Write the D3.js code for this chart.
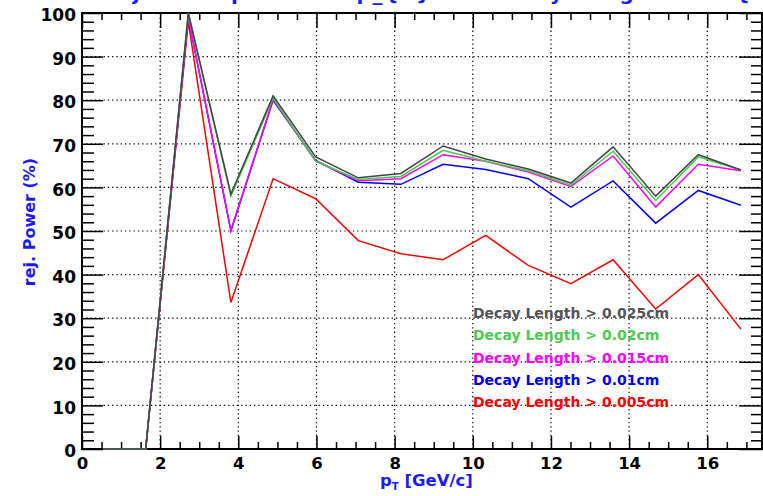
<!DOCTYPE html>
<html>
<head>
<meta charset="utf-8">
<script src="https://cdn.jsdelivr.net/npm/d3@7"></script>
<style>
  body { margin: 0; background: #fff; }
  svg { display: block; }
  text { font-family: "DejaVu Sans", "Liberation Sans", sans-serif; font-weight: bold; }
</style>
</head>
<body>
<div id="chart"></div>
<script>
// pT bin centres (GeV/c)
const ptBins = [0.54, 1.63, 2.72, 3.81, 4.89, 5.98, 7.07, 8.16, 9.24, 10.33, 11.42, 12.51, 13.59, 14.68, 15.77, 16.86];

// rejection power (%) for each decay length cut
const dl0025 = [0, 0, 100, 58.5, 81, 67, 62.2, 63.2, 69.5, 66.5, 64.2, 61, 69.3, 58, 67.5, 64];
const dl0020 = [0, 0, 100, 58, 80.5, 66, 61.8, 62.5, 68.5, 66, 63.8, 60.5, 68.3, 57, 67, 64];
const dl0015 = [0, 0, 99, 50.2, 80.2, 66, 61.5, 62, 67.5, 66, 63.5, 60.2, 67.2, 55.5, 65.3, 63.8];
const dl0010 = [0, 0, 99, 50, 80, 66.2, 61.2, 60.7, 65.3, 64.1, 62, 55.5, 61.5, 51.8, 59.3, 55.9];
const dl0005 = [0, 0, 98, 33.6, 62, 57.4, 47.8, 44.8, 43.4, 49, 42.1, 37.9, 43.4, 32.1, 40, 27.5];

const legendLabels = ['Decay Length > 0.025cm', 'Decay Length > 0.02cm', 'Decay Length > 0.015cm', 'Decay Length > 0.01cm', 'Decay Length > 0.005cm'];
const xMajorTicks = [0, 2, 4, 6, 8, 10, 12, 14, 16];
const yMajorTicks = [0, 10, 20, 30, 40, 50, 60, 70, 80, 90, 100];

const width = 763;
const height = 496;
const margin = { left: 82, right: 1, top: 13, bottom: 47 };

function buildChart() {
    const svg = d3.select('#chart')
        .append('svg')
        .attr('width', width)
        .attr('height', height);

    const x = d3.scaleLinear()
        .domain([0, 17.4])
        .range([margin.left, width - margin.right]);
    const y = d3.scaleLinear()
        .domain([0, 100])
        .range([height - margin.bottom, margin.top]);

    // title, mostly cut off at the top edge like in the original
    svg.append('text')
        .attr('x', 100)
        .attr('y', 0)
        .attr('fill', '#1a1aff')
        .style('font-size', '20px')
        .attr('textLength', 650)
        .text('Rejection power vs p_{T} for Decay Length cuts {');

    // dotted grid
    const grid = svg.append('g')
        .attr('stroke', '#000')
        .attr('stroke-width', 1.2)
        .attr('stroke-dasharray', '1.3,3');
    grid.selectAll('.gx')
        .data(xMajorTicks.filter(d => d > 0))
        .enter().append('line')
        .attr('x1', d => x(d)).attr('x2', d => x(d))
        .attr('y1', y(0)).attr('y2', y(100));
    grid.selectAll('.gy')
        .data(yMajorTicks.filter(d => d > 0 && d < 100))
        .enter().append('line')
        .attr('x1', x(0)).attr('x2', x(17.4))
        .attr('y1', d => y(d)).attr('y2', d => y(d));

    const xMinor = d3.range(0, 17.5, 0.5).filter(d => d % 2 !== 0);
    const yMinor = d3.range(0, 101, 2).filter(d => d % 10 !== 0);

    function styleAxis(g) {
        g.select('.domain').remove();
        g.selectAll('line').attr('stroke', '#000').attr('stroke-width', 1.5);
    }

    // bottom axis
    svg.append('g')
        .attr('transform', `translate(0,${y(0)})`)
        .call(d3.axisBottom(x).tickValues(xMajorTicks).tickSize(-13).tickPadding(8).tickFormat(d3.format('d')))
        .call(styleAxis)
        .call(g => g.selectAll('text').attr('fill', '#000').style('font-size', '16.5px'));
    svg.append('g')
        .attr('transform', `translate(0,${y(0)})`)
        .call(d3.axisBottom(x).tickValues(xMinor).tickSize(-7).tickFormat(''))
        .call(styleAxis);

    // top axis
    svg.append('g')
        .attr('transform', `translate(0,${y(100)})`)
        .call(d3.axisTop(x).tickValues(xMajorTicks).tickSize(-15).tickFormat(''))
        .call(styleAxis);
    svg.append('g')
        .attr('transform', `translate(0,${y(100)})`)
        .call(d3.axisTop(x).tickValues(xMinor).tickSize(-7).tickFormat(''))
        .call(styleAxis);

    // left axis
    svg.append('g')
        .attr('transform', `translate(${x(0)},0)`)
        .call(d3.axisLeft(y).tickValues(yMajorTicks).tickSize(-21).tickPadding(6).tickFormat(d3.format('d')))
        .call(styleAxis)
        .call(g => g.selectAll('text').attr('fill', '#000').attr('dy', '0.45em').style('font-size', '17px'));
    svg.append('g')
        .attr('transform', `translate(${x(0)},0)`)
        .call(d3.axisLeft(y).tickValues(yMinor).tickSize(-12).tickFormat(''))
        .call(styleAxis);

    // right axis
    svg.append('g')
        .attr('transform', `translate(${x(17.4)},0)`)
        .call(d3.axisRight(y).tickValues(yMajorTicks).tickSize(-23).tickFormat(''))
        .call(styleAxis);
    svg.append('g')
        .attr('transform', `translate(${x(17.4)},0)`)
        .call(d3.axisRight(y).tickValues(yMinor).tickSize(-11).tickFormat(''))
        .call(styleAxis);

    // frame
    svg.append('rect')
        .attr('x', x(0)).attr('y', y(100))
        .attr('width', x(17.4) - x(0)).attr('height', y(0) - y(100))
        .attr('fill', 'none')
        .attr('stroke', '#000')
        .attr('stroke-width', 2);

    // curves, drawn so the loosest cut ends up on top
    const series = [
        { values: dl0005, color: '#ff0000' },
        { values: dl0010, color: '#0000ff' },
        { values: dl0015, color: '#ff00ff' },
        { values: dl0020, color: '#44cc44' },
        { values: dl0025, color: '#444444' }
    ];
    const line = d3.line()
        .x((d, i) => x(ptBins[i]))
        .y(d => y(d));
    svg.append('g')
        .selectAll('path')
        .data(series)
        .enter().append('path')
        .attr('d', d => line(d.values))
        .attr('fill', 'none')
        .attr('stroke', d => d.color)
        .attr('stroke-width', 1.5);

    // legend (text only)
    const legendColors = ['#555555', '#4fc94f', '#ff00ff', '#0000ff', '#ff0000'];
    svg.append('g')
        .selectAll('text')
        .data(legendLabels)
        .enter().append('text')
        .attr('x', 473)
        .attr('y', (d, i) => 318 + i * 22.3)
        .attr('fill', (d, i) => legendColors[i])
        .style('font-size', '14px')
        .text(d => d);

    // axis titles
    const xt = svg.append('text')
        .attr('x', 380)
        .attr('y', 486)
        .attr('fill', '#1a1aff')
        .style('font-size', '16.5px');
    xt.append('tspan').text('p');
    xt.append('tspan').attr('dy', 4).style('font-size', '10px').text('T');
    xt.append('tspan').attr('dy', -4).text(' [GeV/c]');

    svg.append('text')
        .attr('transform', 'translate(35,222) rotate(-90)')
        .attr('text-anchor', 'middle')
        .attr('fill', '#1a1aff')
        .style('font-size', '16px')
        .text('rej. Power (%)');
}

document.addEventListener('DOMContentLoaded', () => buildChart());
</script>
</body>
</html>
